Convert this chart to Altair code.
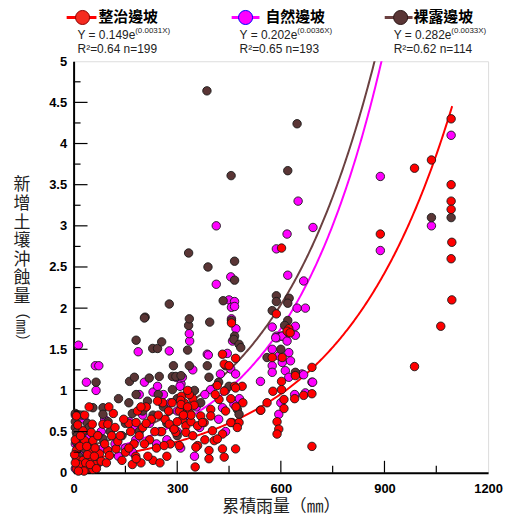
import altair as alt
import pandas as pd
import numpy as np

# ---------------- data ----------------
series_names = ["整治邊坡", "自然邊坡", "裸露邊坡"]

red_pts = [
    (8,0.69),(32,0.70),(85,0.59),(99,0.59),(54,0.59),(27,0.51),(51,0.49),(32,0.39),(56,0.39),(8,0.27),
    (46,0.25),(99,0.27),(123,0.29),(75,0.23),(8,0.17),(27,0.15),(51,0.15),(22,0.07),(42,0.05),(56,0.04),
    (8,0.05),(104,0.21),(15,0.10),(35,0.12),(65,0.10),(5,0.40),(18,0.32),(40,0.22),(62,0.30),(70,0.45),
    (110,0.45),(90,0.35),(12,0.58),(45,0.80),(80,0.14),(30,0.02),(48,0.10),(60,0.20),(5,0.12),(20,0.45),
    (115,0.72),(3,0.22),(14,0.02),(38,0.32),(66,0.05),(95,0.12),(120,0.55),(128,0.38),(102,0.80),
    (135,0.45),(150,0.25),(160,0.60),(175,0.35),(185,0.75),(200,0.55),(210,0.80),(220,0.40),(230,0.15),(240,0.30),
    (255,0.50),(265,0.65),(280,0.35),(290,0.53),(250,0.12),(195,0.12),(170,0.10),(145,0.65),(215,0.20),(275,0.75),
    (258,0.85),(243,0.87),(277,0.59),(296,0.49),(262,0.33),(140,0.15),(160,0.30),(180,0.20),(205,0.35),(225,0.65),
    (235,0.50),(190,0.45),(270,0.20),(285,0.85),(165,0.50),(245,0.70),(195,0.80),(210,0.60),(181,0.61),(181,0.17),
    (312,0.93),(320,0.85),(330,0.78),(337,0.72),(345,0.90),(315,0.65),(325,0.57),(340,0.62),(306,0.75),(349,0.82),
    (335,0.95),(310,0.88),(325,0.49),(306,0.33),(359,0.33),(407,0.39),(431,0.47),(459,0.61),(479,0.61),(392,0.27),
    (431,0.29),(469,0.29),(392,0.17),(436,0.19),(352,0.07),(378,0.61),(368,0.69),(359,0.57),(416,1.06),(436,0.99),
    (466,1.05),(431,1.44),(436,1.32),(450,1.30),(469,1.39),(457,1.82),(421,0.89),(397,0.77),(397,0.69),(455,0.61),
    (474,0.55),(291,0.53),(373,0.61),(402,0.51),(416,0.41),(354,0.31),(488,1.05),(469,1.03),(311,0.83),(330,0.80),
    (340,0.70),(410,0.95),(490,0.85),(330,1.00),(318,0.70),(300,0.62),(345,0.45),(380,0.40),(440,0.75),(455,0.90),
    (470,0.80),
    (541,0.76),(587,1.93),(602,2.73),(623,1.75),(623,1.70),(618,1.72),(627,1.70),(575,1.40),(604,1.40),(642,1.18),
    (690,1.28),(602,1.11),(602,1.01),(577,0.99),(666,0.94),(690,0.96),(609,0.89),(640,0.90),(542,0.76),(609,0.78),
    (589,0.62),(594,0.53),(589,0.47),(690,0.32),(560,0.85),
    (1093,4.30),(1036,3.80),(987,3.70),(1093,3.50),(1093,3.30),(1093,3.20),(888,2.90),(1095,2.80),(1093,2.60),
    (1095,2.10),(1063,1.78),(987,1.29),
]

mag_pts = [
    (14,1.55),(63,1.30),(73,1.30),(37,1.10),(65,1.00),(5,0.70),(10,0.55),(5,0.35),(8,0.20),(15,0.10),
    (25,0.12),(40,0.10),(60,0.12),(70,0.11),(5,0.05),(50,0.30),(30,0.65),(90,0.65),(80,0.50),(20,0.25),
    (45,0.45),(85,0.30),
    (187,1.47),(162,0.62),(175,0.55),(150,0.30),(200,0.70),(230,0.98),(243,1.05),(210,0.80),(180,0.40),(130,0.20),
    (120,0.35),(250,0.50),(240,0.35),(190,0.95),(220,0.60),(170,0.25),(205,1.10),(255,0.85),
    (277,1.48),(336,1.60),(335,1.69),(296,1.16),(311,1.08),(335,0.99),(308,1.05),(315,1.16),(300,0.50),(270,0.40),
    (310,0.30),(387,1.44),(390,1.43),(397,1.01),(413,3.00),(413,2.29),(355,0.80),(330,0.70),(280,0.85),(365,0.55),
    (380,0.95),(260,0.95),(350,0.20),(345,1.25),(300,0.75),
    (455,2.38),(450,2.10),(466,2.08),(457,2.01),(466,2.02),(457,1.87),(455,1.26),(469,1.20),(431,0.79),(464,0.83),
    (440,1.00),(420,0.65),(480,0.90),(445,1.45),(470,1.75),(460,1.60),(440,0.50),(425,1.20),
    (618,2.90),(587,2.72),(650,3.30),(620,2.40),(666,2.33),(693,2.98),(671,2.00),(647,2.00),(575,1.77),(642,1.78),
    (587,1.66),(602,1.66),(642,1.67),(589,1.64),(604,1.66),(585,1.64),(618,1.60),(575,1.50),(623,1.46),(594,1.42),
    (575,1.30),(604,1.34),(628,1.36),(613,1.24),(575,1.22),(661,1.20),(623,1.16),(541,1.11),(690,1.10),(594,0.71),
    (666,1.19),(671,0.97),(692,1.10),(640,0.95),(600,0.85),
    (888,3.60),(888,2.70),(1036,3.00),(1093,4.10),
]

brn_pts = [
    (5,0.55),(8,0.49),(8,0.37),(5,0.62),(10,0.45),(12,0.30),(20,0.42),(32,0.29),(15,0.20),(30,0.50),
    (40,0.60),(48,0.35),(56,0.79),(85,0.79),(85,0.71),(65,1.10),(106,0.50),(85,0.41),(100,0.62),(70,0.45),
    (25,0.70),(5,0.72),(45,0.55),(60,0.30),
    (162,1.11),(176,1.16),(181,1.61),(207,1.89),(219,1.15),(229,1.51),(243,1.51),(255,1.59),(248,1.17),(181,0.95),
    (214,0.87),(140,0.45),(150,0.60),(170,0.72),(160,0.85),(190,0.50),(200,0.75),(230,0.70),(245,0.95),(205,1.88),
    (130,0.90),
    (277,2.05),(286,1.17),(296,1.17),(289,1.30),(330,1.49),(333,2.67),(333,1.79),(335,1.87),(335,1.30),(311,1.18),
    (286,1.01),(368,0.85),(387,1.30),(392,1.16),(389,2.50),(394,1.83),(386,4.64),(300,0.90),(320,0.75),(260,0.80),
    (350,1.00),(270,0.60),(300,0.45),
    (456,3.61),(466,2.57),(466,2.34),(433,2.09),(466,1.66),(464,1.62),(479,1.56),(484,1.52),(474,0.77),(479,0.71),
    (457,1.85),(440,1.30),(420,1.10),(450,1.05),
    (647,4.24),(620,3.67),(587,2.15),(587,2.08),(624,2.12),(620,2.06),(575,1.97),(620,1.85),(611,1.79),(642,1.22),
    (600,1.50),(560,1.40),
    (1036,3.10),(1093,3.10),
]

# fitted curves  Y = a * e^(b X)
fit_a = [0.149, 0.202, 0.282]
fit_b = [0.0031, 0.0036, 0.0033]
fit_xmax = [1096, 1200, 1200]
fit_a_txt = ["0.149", "0.202", "0.282"]
fit_b_txt = ["(0.0031X)", "(0.0036X)", "(0.0033X)"]
fit_r2 = ["0.64", "0.65", "0.62"]
fit_n = ["199", "193", "114"]

y_tick_values = [0, 0.5, 1, 1.5, 2, 2.5, 3, 3.5, 4, 4.5, 5]
y_minor_values = [0.25, 0.75, 1.25, 1.75, 2.25, 2.75, 3.25, 3.75, 4.25, 4.75]
x_tick_values = [0, 300, 600, 900, 1200]
x_major_inner = [300, 600, 900]
x_minor_inner = [150, 450, 750, 1050]

# ---------------- styling ----------------
W, H = 417, 414
fill_colors = ["#ff0000", "#ff00ff", "#5a3535"]
line_colors = ["#ff0000", "#ff00ff", "#6b4141"]
legend_edge = ["#8b0000", "#0000ff", "#2a1515"]
CJK = "Noto Sans CJK TC"
LAT = "Liberation Sans"

xscale = alt.Scale(domain=[0, 1200], nice=False, zero=False)
yscale = alt.Scale(domain=[0, 5], nice=False, zero=False)

X_AXIS = alt.Axis(values=x_tick_values, format="d", ticks=False, tickSize=0, grid=False, domainColor="black",
                  domainWidth=2, labelFont=LAT, labelFontWeight="bold", labelFontSize=13,
                  labelColor="black", labelPadding=10, labelFlush=False, title=None)
Y_AXIS = alt.Axis(values=y_tick_values, format="~g", ticks=False, tickSize=0, grid=False,
                  domainColor="black", domainWidth=2, labelFont=LAT, labelFontWeight="bold",
                  labelFontSize=13, labelColor="black", labelPadding=7, title=None)


def pts_df(pts):
    return pd.DataFrame({"x": [p[0] for p in pts], "y": [p[1] for p in pts]})


# curves
curve_frames = []
for i, name in enumerate(series_names):
    xs = np.linspace(0, fit_xmax[i], 400)
    ys = fit_a[i] * np.exp(fit_b[i] * xs)
    keep = ys <= 5.4
    curve_frames.append(pd.DataFrame({"x": xs[keep], "y": ys[keep], "s": name}))
curves = pd.concat(curve_frames, ignore_index=True)

line_layer = alt.Chart(curves).mark_line(strokeWidth=2, clip=True).encode(
    x=alt.X("x:Q", scale=xscale, axis=X_AXIS),
    y=alt.Y("y:Q", scale=yscale, axis=Y_AXIS),
    color=alt.Color("s:N", scale=alt.Scale(domain=series_names, range=line_colors), legend=None),
    detail="s:N",
)


def point_layer(pts, color):
    return alt.Chart(pts_df(pts)).mark_circle(size=72, opacity=1, fill=color, stroke="#1a1a1a",
                                              strokeWidth=0.9).encode(
        x=alt.X("x:Q", scale=xscale, axis=X_AXIS),
        y=alt.Y("y:Q", scale=yscale, axis=Y_AXIS),
    )


mag_layer = point_layer(mag_pts, fill_colors[1])
brn_layer = point_layer(brn_pts, fill_colors[2])
red_layer = point_layer(red_pts, fill_colors[0])


# inner ticks
def ytick_layer(vals, length):
    return alt.Chart(pd.DataFrame({"y": vals})).mark_rule(color="black", strokeWidth=1.2).encode(
        y=alt.Y("y:Q", scale=yscale, axis=Y_AXIS), x=alt.value(0), x2=alt.value(length))


def xtick_layer(vals, length):
    return alt.Chart(pd.DataFrame({"x": vals})).mark_rule(color="black", strokeWidth=1.2).encode(
        x=alt.X("x:Q", scale=xscale, axis=X_AXIS), y=alt.value(H), y2=alt.value(H - length))


ticks = [ytick_layer(y_tick_values[1:-1], 14), ytick_layer(y_minor_values, 7),
         xtick_layer(x_major_inner, 12), xtick_layer(x_minor_inner, 7)]

one = pd.DataFrame({"d": [0]})


def txt(text, x, y, size, font, color="black", weight="normal", align="left", baseline="middle", angle=0,
        lineHeight=None):
    kw = dict(text=text, fontSize=size, font=font, color=color, fontWeight=weight, align=align,
              baseline=baseline)
    if angle:
        kw["angle"] = angle
    if lineHeight:
        kw["lineBreak"] = "\n"
        kw["lineHeight"] = lineHeight
    return alt.Chart(one).mark_text(**kw).encode(x=alt.value(x), y=alt.value(y))


deco = []
# legend (x positions relative to plot origin)
leg_line = [(-7, 23), (159, 187), (313, 341)]
leg_circ = [9, 173, 329]
leg_lab = [25, 193, 342]
leg_eq = [4, 167, 322]
for i, name in enumerate(series_names):
    deco.append(alt.Chart(one).mark_rule(color=line_colors[i], strokeWidth=3).encode(
        x=alt.value(leg_line[i][0]), x2=alt.value(leg_line[i][1]), y=alt.value(-44)))
    deco.append(alt.Chart(one).mark_circle(size=200, opacity=1, fill=fill_colors[i] if i != 0 else "#f52a1f",
                                           stroke=legend_edge[i], strokeWidth=1).encode(
        x=alt.value(leg_circ[i]), y=alt.value(-44)))
    deco.append(txt(name, leg_lab[i], -44, 15, CJK, color="black", weight="bold"))
    deco.append(txt("Y = " + fit_a_txt[i] + "e", leg_eq[i], -26, 12, LAT, color="#222"))
    deco.append(txt(fit_b_txt[i], leg_eq[i] + 58, -30, 8, LAT, color="#222"))
    deco.append(txt("R²=" + fit_r2[i] + "  n=" + fit_n[i], leg_eq[i], -12, 12, LAT, color="#222"))

# axis titles
deco.append(txt("新\n增\n土\n壤\n沖\n蝕\n量", -52, 117, 17, CJK, color="#222", align="center", baseline="top",
                lineHeight=18.7))
deco.append(txt("（㎜）", -52, 267, 15, CJK, color="#222", align="center", angle=90))
deco.append(txt("累積雨量（㎜）", 209, 448, 17, CJK, color="#222", align="center"))

chart = alt.layer(line_layer, mag_layer, brn_layer, red_layer, *ticks, *deco).properties(
    width=W, height=H,
    padding={"left": 66, "top": 52, "right": 16, "bottom": 45},
    autosize=alt.AutoSizeParams(type="none"),
).configure_view(stroke="black", strokeWidth=1.2).configure(background="white")

chart.save("out.html", embed_options={"renderer": "svg", "actions": False})
